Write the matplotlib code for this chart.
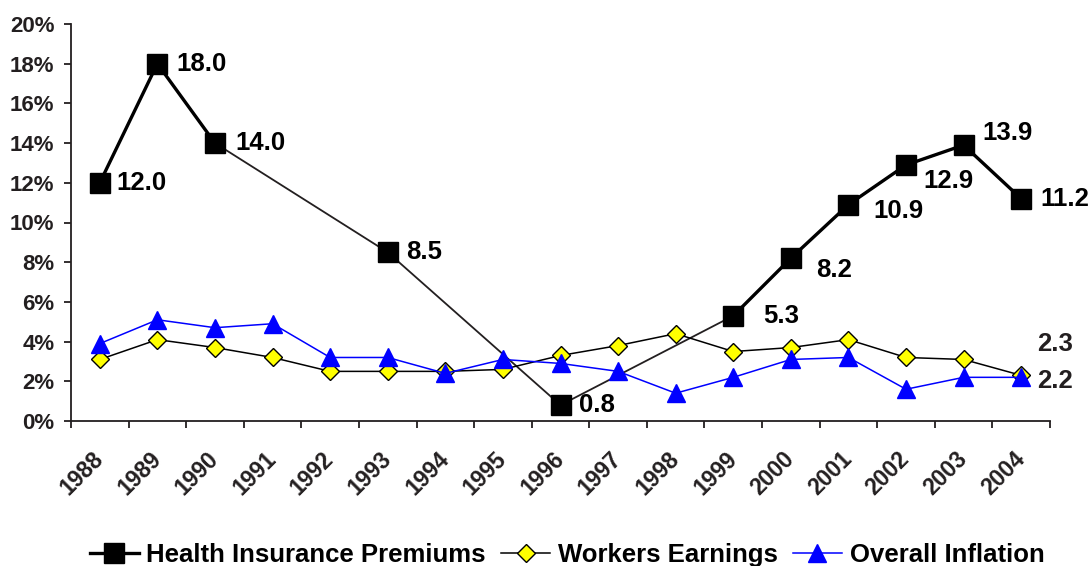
import numpy as np
import matplotlib
matplotlib.use("Agg")
import matplotlib.pyplot as plt
from matplotlib.ticker import FixedLocator, FuncFormatter

plt.rcParams['font.family'] = ['Liberation Sans', 'DejaVu Sans']
plt.rcParams['font.weight'] = 'bold'

years = ['1988', '1989', '1990', '1991', '1992', '1993', '1994', '1995', '1996',
         '1997', '1998', '1999', '2000', '2001', '2002', '2003', '2004']
nan = np.nan
health = [12.0, 18.0, 14.0, nan, nan, 8.5, nan, nan, 0.8, nan, nan,
          5.3, 8.2, 10.9, 12.9, 13.9, 11.2]
workers = [3.1, 4.1, 3.7, 3.2, 2.5, 2.5, 2.5, 2.6, 3.3, 3.8, 4.4,
           3.5, 3.7, 4.1, 3.2, 3.1, 2.3]
inflation = [3.9, 5.1, 4.7, 4.9, 3.2, 3.2, 2.4, 3.1, 2.9, 2.5, 1.4,
             2.2, 3.1, 3.2, 1.6, 2.2, 2.2]
yticks = [0, 2, 4, 6, 8, 10, 12, 14, 16, 18, 20]

# label offsets in pixels (dx, dy) relative to the marker; dy positive = down
health_label_offsets = {0: (17, 0), 1: (19, 0), 2: (20, 0), 5: (18, 0), 8: (18, 0),
                        11: (30, 0), 12: (25, 12), 13: (25, 6), 14: (17, 16),
                        15: (19, -12), 16: (19, 0)}

DK = '#231f20'
fig = plt.figure(figsize=(10.92, 5.66), dpi=100)
ax = fig.add_axes([71/1092, 1 - 421/566, (1050 - 71)/1092, (421 - 24)/566])

x = np.arange(len(years))
h = np.array(health, dtype=float)
valid = ~np.isnan(h)

# thin connector across missing years
ax.plot(x[valid], h[valid], color=DK, lw=1.3, zorder=3)

ax.plot(x, workers, color='black', lw=1.1, marker='D', ms=9,
        mfc='#ffff00', mec='black', mew=1.0, zorder=4, label='Workers Earnings')
ax.plot(x, inflation, color='#0000ff', lw=1.1, marker='^', ms=13,
        mfc='#0000ff', mec='#0000ff', zorder=5, label='Overall Inflation')
# thick line between consecutive years
ax.plot(x, h, color='black', lw=2.4, marker='s', ms=14, mfc='black',
        mec='black', zorder=6, label='Health Insurance Premiums')

px = 72 / 100.0
for i, (dx, dy) in health_label_offsets.items():
    ax.annotate(f"{health[i]:.1f}", (x[i], health[i]), xytext=(dx * px, -dy * px),
                textcoords='offset points', ha='left', va='center',
                fontsize=18.5, fontweight='bold', color='black', zorder=7,
                annotation_clip=False)

n = len(years) - 1
ax.annotate(f"{workers[n]:.1f}", (x[n], workers[n]), xytext=(16 * px, 31 * px),
            textcoords='offset points', ha='left', va='center',
            fontsize=18.5, fontweight='bold', color=DK)
ax.annotate(f"{inflation[n]:.1f}", (x[n], inflation[n]), xytext=(16 * px, -4 * px),
            textcoords='offset points', ha='left', va='center',
            fontsize=18.5, fontweight='bold', color=DK)

ax.set_xlim(-0.5, len(years) - 0.5)
ax.set_ylim(0, 20)
ax.set_yticks(yticks)
ax.yaxis.set_major_formatter(FuncFormatter(lambda v, p: f"{int(v)}%"))
ax.set_xticks(x)
ax.set_xticklabels(years)
ax.xaxis.set_minor_locator(FixedLocator(np.arange(-0.5, len(years), 1.0)))

for s in ['top', 'right']:
    ax.spines[s].set_visible(False)
for s in ['left', 'bottom']:
    ax.spines[s].set_linewidth(1.3)
    ax.spines[s].set_color(DK)

ax.tick_params(axis='y', direction='out', length=5, width=1.3, color=DK,
               labelsize=16, labelcolor=DK, pad=7)
ax.tick_params(axis='x', which='major', length=0, labelsize=16.5,
               labelcolor=DK, pad=25)
ax.tick_params(axis='x', which='minor', direction='out', length=5, width=1.3, color=DK)
for lab in ax.get_yticklabels():
    lab.set_fontweight('bold')
for lab in ax.get_xticklabels():
    lab.set_fontweight('bold')
    lab.set_rotation(45)
    lab.set_ha('right')
    lab.set_va('center')
    lab.set_rotation_mode('anchor')

handles, labels = ax.get_legend_handles_labels()
order = [2, 0, 1]
leg = fig.legend([handles[i] for i in order], [labels[i] for i in order],
                 loc='center', bbox_to_anchor=(567/1092, 11/566), ncol=3,
                 frameon=False, prop={'size': 18.5, 'weight': 'bold'},
                 handlelength=1.9, handletextpad=0.3, columnspacing=0.6,
                 borderaxespad=0, borderpad=0)

fig.savefig('out.png', dpi=100)
